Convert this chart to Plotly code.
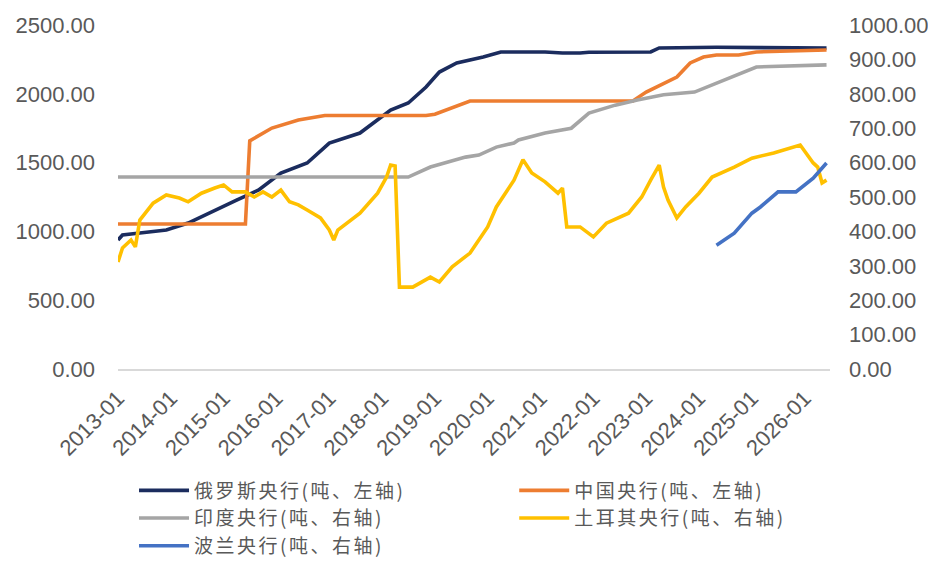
import plotly.graph_objects as go

# ---- data (tonnes) ----
russia_dates = ["2013-01", "2013-02", "2013-06", "2013-12", "2014-05", "2014-11", "2015-04", "2015-09",
                "2016-02", "2016-08", "2017-01", "2017-08", "2017-11", "2018-03", "2018-07", "2018-11",
                "2019-02", "2019-06", "2019-12", "2020-04", "2021-02", "2021-06", "2021-10", "2021-12",
                "2023-02", "2023-04", "2024-05", "2025-02", "2026-06"]
russia_vals = [937, 974, 988, 1010, 1061, 1156, 1228, 1301,
               1424, 1497, 1642, 1715, 1788, 1882, 1933, 2049,
               2158, 2224, 2267, 2304, 2304, 2296, 2296, 2302,
               2304, 2333, 2338, 2338, 2333]

china_dates = ["2013-01", "2015-06", "2015-07", "2015-12", "2016-06", "2016-12", "2018-11", "2019-01",
               "2019-09", "2022-10", "2023-01", "2023-05", "2023-08", "2023-11", "2024-02", "2024-05",
               "2024-10", "2025-02", "2026-06"]
china_vals = [1054, 1054, 1658, 1751, 1810, 1842, 1842, 1852,
              1948, 1948, 2013, 2078, 2122, 2224, 2267, 2282,
              2282, 2304, 2318]

india_dates = ["2013-01", "2018-07", "2018-12", "2019-08", "2019-11", "2020-03", "2020-07", "2020-08",
               "2021-02", "2021-08", "2021-12", "2022-06", "2022-11", "2023-05", "2023-12", "2024-05",
               "2024-11", "2025-02", "2026-06"]
india_vals = [558, 558, 587, 616, 622, 645, 657, 666,
              686, 700, 744, 767, 782, 797, 805, 831,
              860, 878, 884]

turkey_dates = ["2013-01", "2013-02", "2013-04", "2013-05", "2013-06", "2013-09", "2013-12", "2014-03",
                "2014-05", "2014-08", "2014-11", "2015-01", "2015-03", "2015-06", "2015-08", "2015-10",
                "2015-12", "2016-02", "2016-04", "2016-06", "2016-08", "2016-11", "2017-01", "2017-02",
                "2017-03", "2017-08", "2017-12", "2018-02", "2018-03", "2018-04", "2018-05", "2018-08",
                "2018-12", "2019-02", "2019-05", "2019-09", "2020-01", "2020-03", "2020-07", "2020-09",
                "2020-11", "2021-02", "2021-05", "2021-06", "2021-07", "2021-10", "2022-01", "2022-04",
                "2022-09", "2022-12", "2023-02", "2023-04", "2023-05", "2023-06", "2023-08", "2023-10",
                "2024-01", "2024-04", "2024-09", "2025-01", "2025-06", "2025-10", "2025-12", "2026-03",
                "2026-04", "2026-05", "2026-06"]
turkey_vals = [311, 352, 375, 355, 433, 482, 506, 497,
               486, 511, 526, 535, 515, 515, 500, 515,
               500, 520, 486, 477, 462, 439, 404, 375,
               404, 453, 511, 558, 593, 590, 238, 238,
               267, 253, 297, 337, 413, 471, 549, 608,
               570, 544, 511, 526, 413, 413, 384, 424,
               453, 500, 549, 593, 529, 491, 439, 471,
               511, 558, 587, 613, 628, 642, 651, 599,
               587, 541, 549]

poland_dates = ["2024-05", "2024-09", "2025-01", "2025-03", "2025-07", "2025-11", "2026-03", "2026-06"]
poland_vals = [360, 395, 453, 471, 515, 515, 555, 599]

names = ["俄罗斯央行(吨、左轴)", "中国央行(吨、左轴)", "印度央行(吨、右轴)", "土耳其央行(吨、右轴)", "波兰央行(吨、右轴)"]
colors = ["#1B2C5E", "#ED7D31", "#A5A5A5", "#FFC000", "#4472C4"]
legend_ids = ["legend", "legend2", "legend", "legend2", "legend"]

series = [
    (russia_dates, russia_vals, "y"),
    (china_dates, china_vals, "y"),
    (india_dates, india_vals, "y2"),
    (turkey_dates, turkey_vals, "y2"),
    (poland_dates, poland_vals, "y2"),
]

fig = go.Figure()
for (d, v, ax), name, col, lg in zip(series, names, colors, legend_ids):
    fig.add_trace(go.Scatter(x=d, y=v, mode="lines", yaxis=ax, legend=lg,
                             name='<span style="letter-spacing:2.5px">' + name + '</span>',
                             line=dict(color=col, width=3.6)))

tick_font = dict(family="Liberation Sans, Arial, sans-serif", size=22, color="#595959")
leg_font = dict(family="Noto Sans CJK SC, sans-serif", size=19, color="#595959")

fig.update_layout(
    width=928, height=561,
    margin=dict(l=118, r=98, t=25, b=192, autoexpand=False),
    paper_bgcolor="white", plot_bgcolor="white",
    showlegend=True,
    legend=dict(orientation="v", x=0.0225, xanchor="left", y=-0.298, yanchor="top",
                itemwidth=50, tracegroupgap=0, font=leg_font, bgcolor="rgba(0,0,0,0)"),
    legend2=dict(orientation="v", x=0.5565, xanchor="left", y=-0.298, yanchor="top",
                 itemwidth=50, tracegroupgap=0, font=leg_font, bgcolor="rgba(0,0,0,0)"),
    xaxis=dict(type="date", range=["2013-01-01", "2026-06-25"],
               tickformat="%Y-%m", dtick="M12", tick0="2013-01-01",
               tickangle=-45, tickfont=tick_font, showgrid=False,
               showline=True, linecolor="#D9D9D9", linewidth=1.5, zeroline=False,
               ticks="", ticklabelstandoff=6),
    yaxis=dict(range=[0, 2500], dtick=500, tickformat=".2f", tickfont=tick_font,
               showgrid=False, zeroline=False, showline=False, ticklabelstandoff=22),
    yaxis2=dict(range=[0, 1000], dtick=100, tickformat=".2f", tickfont=tick_font,
                overlaying="y", side="right", showgrid=False, zeroline=False,
                showline=False, ticklabelstandoff=18),
)

fig.write_html("out.html", config={"displayModeBar": False},
               post_script="document.body.style.margin='0px';")
